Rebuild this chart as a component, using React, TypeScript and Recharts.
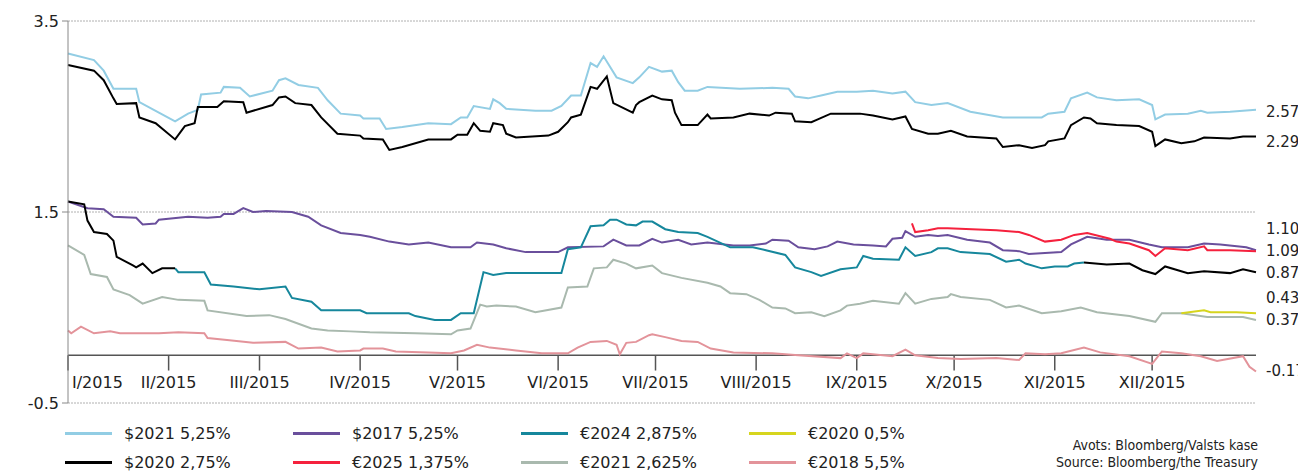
import React from "react";
import { LineChart, Line, XAxis, YAxis, CartesianGrid, ReferenceLine } from "recharts";

// [day of 2015, yield %]
type Pt = [number, number | null];

const usd2021: Pt[] = [
  [0, 3.16], [8, 3.09], [11, 2.98], [14, 2.79], [21, 2.79], [22, 2.65], [28, 2.54], [33, 2.45], [37, 2.53],
  [40, 2.57], [41, 2.73], [47, 2.75], [48, 2.81], [53, 2.8], [56, 2.71], [63, 2.77], [65, 2.88], [67, 2.9],
  [71, 2.83], [77, 2.8], [80, 2.67], [84, 2.53], [90, 2.51], [91, 2.48], [96, 2.48], [98, 2.37], [103, 2.39],
  [111, 2.43], [118, 2.42], [121, 2.49], [123, 2.49], [125, 2.61], [130, 2.58], [131, 2.68], [133, 2.64],
  [135, 2.58], [144, 2.56], [149, 2.56], [152, 2.61], [155, 2.72], [158, 2.72], [161, 3.06], [163, 3.02],
  [165, 3.13], [169, 2.91], [174, 2.85], [176, 2.91], [179, 3.02], [183, 2.97], [186, 2.98], [188, 2.86],
  [190, 2.77], [194, 2.77], [197, 2.81], [207, 2.79], [217, 2.8], [222, 2.79], [224, 2.71], [228, 2.69],
  [232, 2.72], [237, 2.76], [243, 2.76], [248, 2.77], [254, 2.74], [258, 2.76], [261, 2.65], [266, 2.62],
  [271, 2.64], [278, 2.55], [288, 2.49], [300, 2.49], [302, 2.53], [307, 2.55], [309, 2.69], [314, 2.75],
  [317, 2.7], [323, 2.67], [330, 2.68], [334, 2.62], [335, 2.47], [338, 2.52], [345, 2.53], [349, 2.56],
  [351, 2.54], [358, 2.55], [366, 2.57],
];

const usd2020: Pt[] = [
  [0, 3.04], [8, 2.98], [11, 2.88], [14, 2.69], [15, 2.63], [21, 2.64], [22, 2.49], [27, 2.43], [33, 2.26],
  [36, 2.4], [39, 2.43], [40, 2.6], [46, 2.6], [48, 2.66], [54, 2.65], [55, 2.54], [63, 2.62], [65, 2.7],
  [67, 2.71], [70, 2.64], [75, 2.62], [78, 2.49], [83, 2.32], [90, 2.3], [91, 2.27], [97, 2.26], [99, 2.15],
  [103, 2.18], [111, 2.26], [118, 2.26], [120, 2.31], [123, 2.31], [125, 2.43], [127, 2.35], [130, 2.34],
  [131, 2.43], [134, 2.41], [135, 2.32], [138, 2.28], [148, 2.3], [151, 2.34], [154, 2.44], [155, 2.49],
  [158, 2.52], [161, 2.81], [163, 2.79], [166, 2.92], [168, 2.64], [174, 2.54], [175, 2.62], [176, 2.65],
  [180, 2.72], [183, 2.68], [186, 2.67], [187, 2.54], [189, 2.41], [194, 2.41], [197, 2.52], [198, 2.48],
  [205, 2.49], [210, 2.53], [216, 2.51], [218, 2.54], [223, 2.53], [224, 2.45], [229, 2.44], [231, 2.47],
  [235, 2.53], [244, 2.53], [248, 2.51], [254, 2.47], [258, 2.5], [260, 2.37], [265, 2.32], [268, 2.32],
  [272, 2.35], [277, 2.29], [286, 2.27], [288, 2.18], [293, 2.2], [297, 2.17], [301, 2.2], [302, 2.24],
  [307, 2.27], [309, 2.41], [313, 2.49], [315, 2.48], [317, 2.43], [323, 2.41], [330, 2.4], [334, 2.34],
  [335, 2.19], [338, 2.26], [343, 2.22], [347, 2.24], [350, 2.28], [358, 2.27], [362, 2.29], [366, 2.29],
];

const usd2017: Pt[] = [
  [0, 1.61], [6, 1.54], [11, 1.53], [14, 1.45], [21, 1.44], [23, 1.37], [27, 1.38], [28, 1.42], [37, 1.45],
  [43, 1.44], [47, 1.45], [48, 1.48], [51, 1.48], [54, 1.54], [57, 1.5], [61, 1.51], [69, 1.5], [74, 1.45],
  [78, 1.36], [84, 1.28], [90, 1.26], [93, 1.24], [99, 1.19], [105, 1.16], [111, 1.18], [118, 1.13],
  [124, 1.13], [126, 1.18], [131, 1.16], [135, 1.12], [141, 1.08], [151, 1.08], [154, 1.13], [165, 1.14],
  [168, 1.21], [172, 1.15], [176, 1.15], [180, 1.22], [183, 1.18], [188, 1.21], [192, 1.16], [197, 1.18],
  [205, 1.15], [210, 1.15], [215, 1.17], [217, 1.21], [222, 1.2], [225, 1.13], [230, 1.11], [234, 1.14],
  [237, 1.19], [242, 1.16], [248, 1.15], [252, 1.14], [254, 1.22], [257, 1.23], [258, 1.3], [261, 1.24],
  [265, 1.26], [268, 1.25], [271, 1.26], [277, 1.21], [284, 1.18], [288, 1.1], [293, 1.09], [296, 1.06],
  [306, 1.08], [309, 1.16], [314, 1.24], [320, 1.21], [327, 1.21], [333, 1.16], [337, 1.13], [345, 1.13],
  [350, 1.17], [355, 1.16], [363, 1.13], [366, 1.1],
];

const eur2025: Pt[] = [
  [260, 1.38], [261, 1.29], [265, 1.31], [268, 1.33], [271, 1.33], [286, 1.31], [293, 1.29], [296, 1.26],
  [301, 1.19], [306, 1.21], [310, 1.26], [314, 1.28], [321, 1.22], [323, 1.19], [327, 1.17], [333, 1.1],
  [335, 1.04], [338, 1.12], [345, 1.1], [350, 1.14], [351, 1.1], [358, 1.1], [366, 1.09],
];

const eur2024: Pt[] = [
  [33, 0.91], [34, 0.87], [42, 0.87], [44, 0.74], [51, 0.72], [59, 0.69], [67, 0.72], [69, 0.6], [75, 0.56],
  [78, 0.47], [90, 0.47], [92, 0.44], [105, 0.44], [107, 0.41], [113, 0.37], [118, 0.37], [121, 0.44],
  [125, 0.44], [128, 0.87], [131, 0.84], [135, 0.86], [140, 0.86], [152, 0.86], [154, 1.11], [158, 1.13],
  [161, 1.35], [165, 1.36], [167, 1.42], [169, 1.42], [172, 1.37], [175, 1.36], [177, 1.4], [180, 1.4],
  [184, 1.32], [188, 1.29], [194, 1.28], [197, 1.24], [204, 1.13], [211, 1.13], [215, 1.1], [221, 1.05],
  [224, 0.92], [229, 0.87], [232, 0.83], [238, 0.9], [243, 0.92], [245, 1.04], [248, 1.01], [256, 1.0],
  [258, 1.13], [261, 1.04], [266, 1.08], [268, 1.12], [271, 1.12], [275, 1.08], [284, 1.06], [289, 0.98],
  [293, 1.0], [295, 0.96], [300, 0.91], [304, 0.93], [308, 0.93], [310, 0.96], [313, 0.97],
];

// euro benchmark shown in black before €2024 was issued and after the switch in November
const eurBench: Pt[] = [
  [0, 1.61], [5, 1.58], [6, 1.41], [8, 1.29], [12, 1.27], [14, 1.2], [15, 1.03], [20, 0.94], [21, 0.92],
  [23, 0.96], [26, 0.86], [29, 0.91], [33, 0.91], [34, null], [313, 0.97], [320, 0.95], [327, 0.96],
  [331, 0.89], [335, 0.85], [338, 0.93], [345, 0.86], [350, 0.88], [358, 0.86], [362, 0.9], [366, 0.87],
];

const eur2021: Pt[] = [
  [0, 1.15], [5, 1.05], [7, 0.85], [12, 0.82], [14, 0.69], [19, 0.63], [23, 0.54], [29, 0.61], [34, 0.58],
  [42, 0.57], [43, 0.47], [55, 0.41], [62, 0.42], [67, 0.38], [75, 0.28], [80, 0.26], [87, 0.25], [93, 0.24],
  [107, 0.23], [118, 0.22], [120, 0.26], [124, 0.28], [127, 0.53], [129, 0.51], [132, 0.52], [138, 0.51],
  [144, 0.45], [152, 0.5], [154, 0.71], [160, 0.72], [162, 0.91], [166, 0.92], [168, 1.0], [172, 0.96],
  [175, 0.91], [180, 0.94], [183, 0.86], [189, 0.81], [197, 0.76], [201, 0.72], [204, 0.65], [209, 0.64],
  [213, 0.58], [217, 0.5], [221, 0.49], [224, 0.44], [229, 0.45], [233, 0.41], [238, 0.47], [240, 0.52],
  [244, 0.54], [248, 0.57], [256, 0.54], [258, 0.65], [261, 0.54], [266, 0.59], [271, 0.61], [272, 0.64],
  [275, 0.61], [284, 0.58], [289, 0.5], [293, 0.52], [300, 0.44], [306, 0.46], [312, 0.5], [317, 0.45],
  [327, 0.41], [335, 0.35], [337, 0.44], [343, 0.44], [351, 0.4], [362, 0.4], [366, 0.37],
];

const eur2020: Pt[] = [[343, 0.44], [350, 0.47], [352, 0.45], [360, 0.45], [366, 0.44]];

const eur2018: Pt[] = [
  [0, 0.26], [1, 0.23], [4, 0.3], [8, 0.23], [13, 0.25], [16, 0.23], [28, 0.23], [34, 0.24], [42, 0.23],
  [43, 0.18], [49, 0.16], [57, 0.13], [67, 0.14], [71, 0.07], [78, 0.08], [83, 0.04], [90, 0.05], [91, 0.07],
  [97, 0.07], [101, 0.04], [111, 0.03], [118, 0.02], [122, 0.05], [126, 0.11], [130, 0.08], [138, 0.05],
  [146, 0.02], [154, 0.02], [157, 0.08], [161, 0.14], [166, 0.15], [169, 0.11], [170, 0.01], [172, 0.13],
  [175, 0.14], [179, 0.21], [180, 0.22], [184, 0.19], [189, 0.15], [194, 0.14], [198, 0.07], [205, 0.03],
  [217, 0.02], [225, 0.0], [238, -0.03], [240, 0.02], [243, -0.03], [245, 0.02], [254, -0.01], [258, 0.06],
  [261, 0.0], [268, -0.03], [275, -0.04], [286, -0.03], [293, -0.05], [295, 0.02], [301, 0.01], [306, 0.02],
  [313, 0.08], [318, 0.03], [327, -0.01], [334, -0.09], [337, 0.04], [343, 0.02], [349, -0.01], [354, -0.06],
  [362, -0.01], [364, -0.12], [366, -0.17],
];

const monthNames = ["I/2015", "II/2015", "III/2015", "IV/2015", "V/2015", "VI/2015", "VII/2015", "VIII/2015", "IX/2015", "X/2015", "XI/2015", "XII/2015"];
const monthStarts = [0, 31, 59, 90, 120, 151, 181, 212, 243, 273, 304, 334];

// closing values printed right of the plot; "at" is where the text sits on the scale
const endLabels = [
  { text: "2.57", at: 2.55 },
  { text: "2.29", at: 2.24 },
  { text: "1.10", at: 1.33 },
  { text: "1.09", at: 1.09 },
  { text: "0.87", at: 0.86 },
  { text: "0.43", at: 0.6 },
  { text: "0.37", at: 0.37 },
  { text: "-0.17", at: -0.16 },
];

const series = [
  { name: "$2021 5,25%", color: "#92cde4", data: usd2021 },
  { name: "$2020 2,75%", color: "#000000", data: usd2020 },
  { name: "$2017 5,25%", color: "#6a4f9c", data: usd2017 },
  { name: "€2025 1,375%", color: "#f5213d", data: eur2025 },
  { name: "€2024 2,875%", color: "#16879c", data: eur2024 },
  { name: "€2021 2,625%", color: "#a9b9ae", data: eur2021 },
  { name: "€2020 0,5%", color: "#d6d51e", data: eur2020 },
  { name: "€2018 5,5%", color: "#e3939a", data: eur2018 },
];

// legend is laid out column by column, two rows
const legendOrder = [0, 2, 4, 6, 1, 3, 5, 7];

const FONT = "'DejaVu Sans', Verdana, sans-serif";

const rows = (pts: Pt[]) => pts.map(([d, v]) => ({ d, v }));

const MonthLabel = (props: any) => {
  const { viewBox, text, first } = props;
  if (!viewBox) return null;
  const x = first ? viewBox.x + 4 : viewBox.x;
  return (
    <text x={x} y={viewBox.y + viewBox.height + 17} textAnchor={first ? "start" : "middle"} fontSize={16} fill="#222" fontFamily={FONT}>
      {text}
    </text>
  );
};

export default function App() {
  return (
    <div style={{ position: "relative", width: 1298, height: 464, fontFamily: FONT, color: "#222" }}>
      <LineChart width={1298} height={412} margin={{ top: 13, right: 0, bottom: 17, left: 0 }}>
        <CartesianGrid yAxisId="left" vertical={false} stroke="#b0b0b0" strokeDasharray="2 1" />
        <XAxis dataKey="d" type="number" domain={[0, 366]} hide allowDuplicatedCategory={false} />
        <YAxis
          yAxisId="left"
          domain={[-0.5, 3.5]}
          ticks={[-0.5, 1.5, 3.5]}
          width={60}
          stroke="#888"
          tickSize={6}
          tickMargin={3}
          tick={{ fill: "#222", fontSize: 16, fontFamily: FONT }}
        />
        <YAxis
          yAxisId="right"
          orientation="right"
          domain={[-0.5, 3.5]}
          ticks={endLabels.map((e) => e.at)}
          interval={0}
          tickFormatter={(v: number) => endLabels.find((e) => e.at === v)?.text ?? ""}
          axisLine={false}
          tickLine={false}
          tickMargin={4}
          width={50}
          tick={{ fill: "#222", fontSize: 15, fontFamily: FONT, textAnchor: "start" }}
        />
        <ReferenceLine yAxisId="left" y={0} stroke="#555" strokeWidth={1.5} />
        {monthStarts.map((d, i) => (
          <ReferenceLine
            key={monthNames[i]}
            yAxisId="left"
            segment={[{ x: d, y: 0 }, { x: d, y: -0.16 }]}
            stroke="#555"
            strokeWidth={1.5}
            label={(p: any) => <MonthLabel {...p} text={monthNames[i]} first={i === 0} />}
          />
        ))}
        {series.map((s) => (
          <Line
            key={s.name}
            yAxisId="left"
            data={rows(s.data)}
            dataKey="v"
            stroke={s.color}
            strokeWidth={2}
            dot={false}
            isAnimationActive={false}
          />
        ))}
        <Line yAxisId="left" data={rows(eurBench)} dataKey="v" stroke="#000" strokeWidth={2} dot={false} isAnimationActive={false} />
        {/* invisible twin so the right-hand label axis is attached to data */}
        <Line yAxisId="right" data={rows(usd2021)} dataKey="v" stroke="none" strokeWidth={0} dot={false} activeDot={false} isAnimationActive={false} />
      </LineChart>

      {legendOrder.map((idx, k) => {
        const s = series[idx];
        const col = k % 4;
        const row = Math.floor(k / 4);
        return (
          <div
            key={s.name}
            style={{ position: "absolute", left: 57 + col * 228, top: 415 + row * 29, height: 20, display: "flex", alignItems: "center", fontSize: 16, whiteSpace: "nowrap" }}
          >
            <span style={{ display: "inline-block", width: 47, height: 3, background: s.color, marginRight: 12 }} />
            {s.name}
          </div>
        );
      })}
      <div
        style={{ position: "absolute", right: 48, top: 429, textAlign: "right", fontSize: 14, lineHeight: "17px", fontFamily: "'Liberation Sans Narrow', 'DejaVu Sans Condensed', sans-serif", color: "#222" }}
      >
        <div>Avots: Bloomberg/Valsts kase</div>
        <div>Source: Bloomberg/the Treasury</div>
      </div>
    </div>
  );
}
